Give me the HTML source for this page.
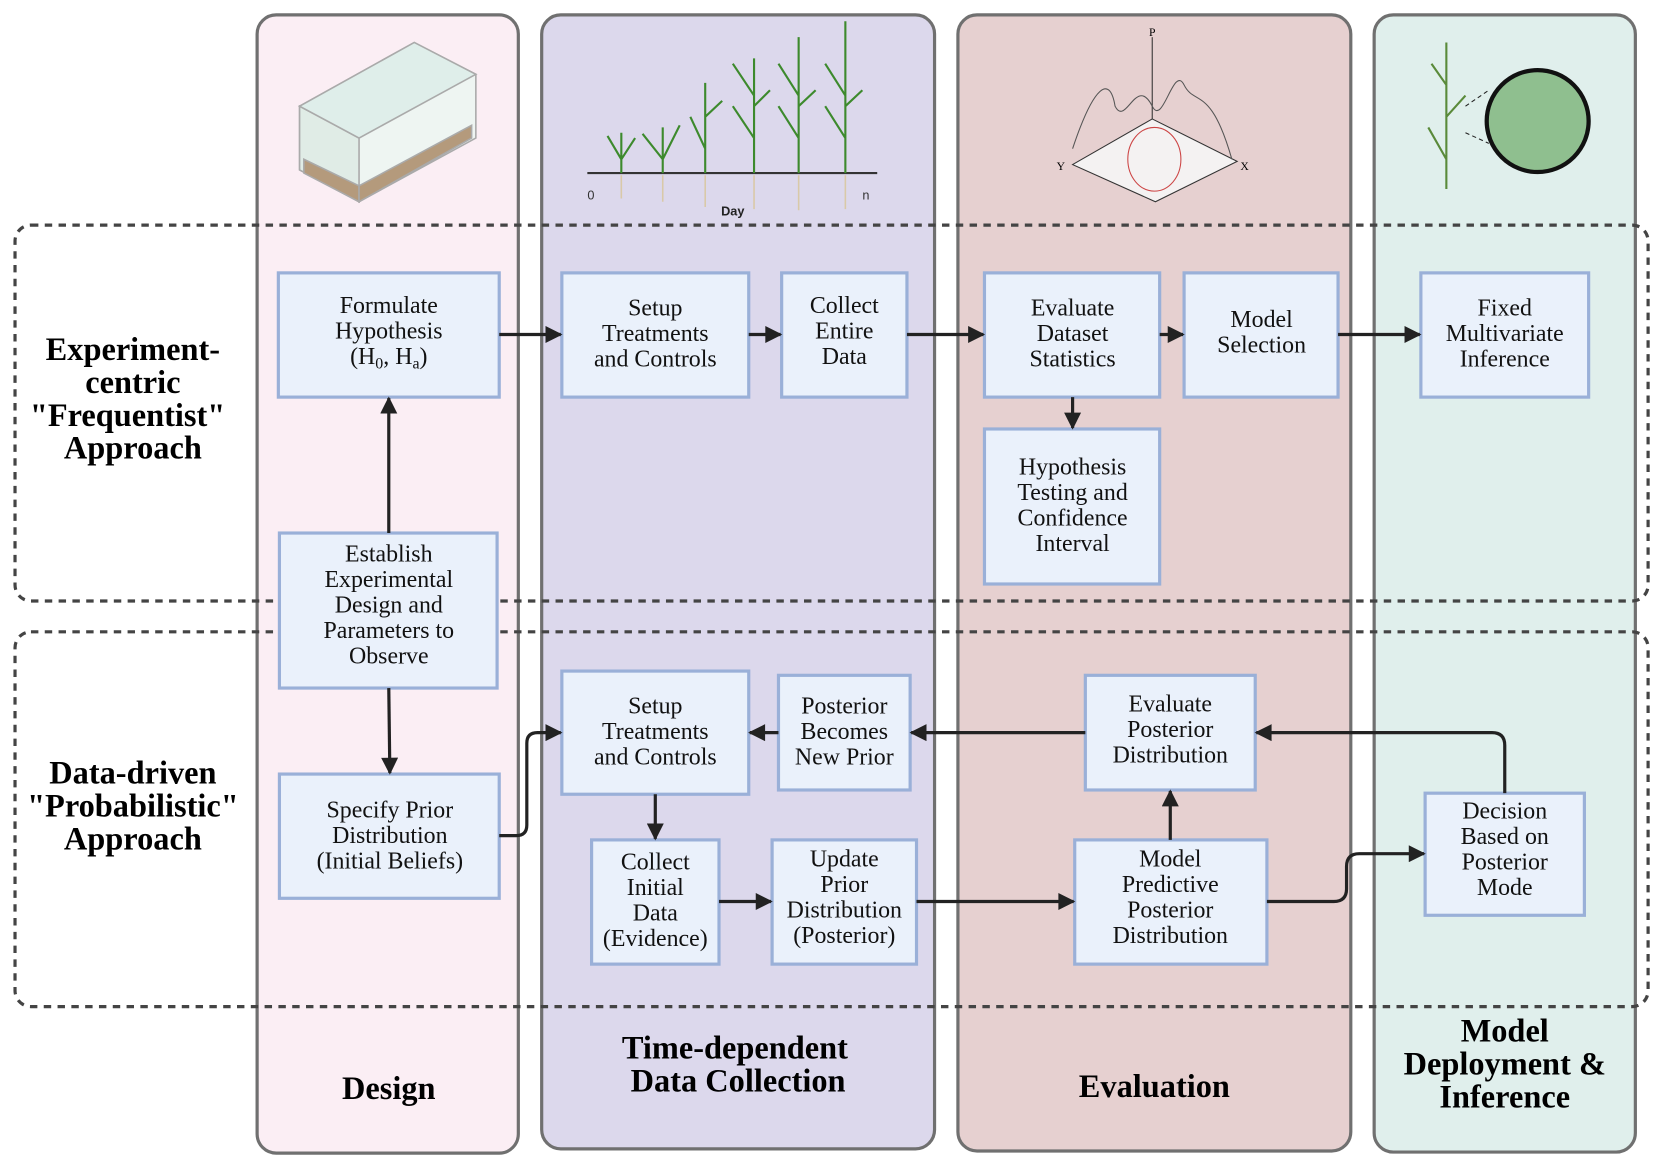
<!DOCTYPE html>
<html><head><meta charset="utf-8"><style>
html,body{margin:0;padding:0;background:#fff;}
svg{display:block;}
.bx{fill:#eaf1fb;stroke:#9ab0d8;stroke-width:3;}
.t{font-family:"Liberation Serif",serif;font-size:22.5px;fill:#111;text-anchor:middle;}
.h{font-family:"Liberation Serif",serif;font-size:30.5px;font-weight:bold;fill:#000;text-anchor:middle;}
.ar{stroke:#222;stroke-width:3;fill:none;}
</style></head><body>
<svg width="1661" height="1168" viewBox="0 0 1564 1100" xmlns="http://www.w3.org/2000/svg">
<defs>
<marker id="m" viewBox="0 0 10 10" refX="9" refY="5" markerWidth="18" markerHeight="16" markerUnits="userSpaceOnUse" orient="auto"><path d="M0,0 L10,5 L0,10 z" fill="#222"/></marker></defs>
<rect x="242" y="14" width="246" height="1072" rx="18" fill="#fbeef4" stroke="#707070" stroke-width="3"/>
<rect x="510" y="14" width="370" height="1068" rx="18" fill="#dcd8ec" stroke="#707070" stroke-width="3"/>
<rect x="902" y="14" width="370" height="1070" rx="18" fill="#e6d0d0" stroke="#707070" stroke-width="3"/>
<rect x="1294" y="14" width="246" height="1071" rx="18" fill="#e0efec" stroke="#707070" stroke-width="3"/>
<rect x="14" y="212" width="1538" height="354" rx="15" fill="none" stroke="#444" stroke-width="3" stroke-dasharray="7,6"/>
<rect x="14" y="595" width="1538" height="353" rx="15" fill="none" stroke="#444" stroke-width="3" stroke-dasharray="7,6"/>
<g stroke="#aaa" stroke-width="1.5" fill="#dfeee8">
<polygon points="282,100 390,40 448,70 448,130 338,190 282,160" fill="#eef5f2"/>
<polygon points="282,100 338,130 338,190 282,160" fill="#e0ece6"/>
<polygon points="282,100 390,40 448,70 338,130" fill="#dfeeea"/>
<polygon points="286,150 338,175 338,190 286,163" fill="#b49a7c"/>
<polygon points="338,175 444,118 444,130 338,190" fill="#b49a7c"/>
</g>
<g stroke="#3d8a2d" stroke-width="2" fill="none">
<line x1="553" y1="163" x2="826" y2="163" stroke="#333"/>
<path d="M585,163 L585,125 M585,150 L572,128 M585,150 L598,130"/>
<path d="M624,163 L624,120 M624,150 L605,126 M624,150 L640,118"/>
<path d="M664,163 L664,78 M664,140 L650,110 M664,110 L680,95"/>
<path d="M710,163 L710,55 M710,130 L690,100 M710,90 L690,60 M710,100 L725,85"/>
<path d="M752,163 L752,35 M752,130 L733,100 M752,90 L733,60 M752,100 L768,85"/>
<path d="M796,163 L796,20 M796,130 L777,100 M796,90 L777,60 M796,100 L812,85"/>
</g>
<g stroke="#d9c9a8" stroke-width="1.5"><path d="M664,165 v30 M710,165 v32 M752,165 v33 M796,165 v32 M624,165 v25 M585,165 v22"/></g>
<text x="553" y="188" font-family="Liberation Sans,sans-serif" font-size="12" fill="#333">0</text>
<text x="812" y="188" font-family="Liberation Sans,sans-serif" font-size="12" fill="#333">n</text>
<text x="690" y="203" font-family="Liberation Sans,sans-serif" font-size="12" font-weight="bold" fill="#222" text-anchor="middle">Day</text>
<g stroke="#333" stroke-width="1" fill="none">
<polygon points="1010,155 1085,112 1165,152 1088,190" fill="#f4f2f2"/>
<line x1="1085" y1="35" x2="1085" y2="112"/>
<path d="M1010,140 C1030,80 1045,70 1050,100 C1060,120 1070,70 1085,100 C1095,120 1105,60 1115,80 C1125,100 1140,80 1160,150" stroke="#555"/>
<ellipse cx="1087" cy="150" rx="25" ry="30" stroke="#c44"/>
</g>
<text x="1085" y="34" font-family="Liberation Serif,serif" font-size="11" text-anchor="middle">P</text>
<text x="995" y="160" font-family="Liberation Serif,serif" font-size="11">Y</text>
<text x="1168" y="160" font-family="Liberation Serif,serif" font-size="11">X</text>
<g stroke="#5a8a3a" stroke-width="2" fill="none"><path d="M1362,178 L1362,40 M1362,150 L1345,120 M1362,110 L1380,90 M1362,80 L1348,60"/></g>
<circle cx="1448" cy="114" r="48" fill="#8fbf8f" stroke="#111" stroke-width="4"/>
<line x1="1380" y1="100" x2="1402" y2="85" stroke="#222" stroke-dasharray="4,3"/>
<line x1="1380" y1="125" x2="1402" y2="135" stroke="#222" stroke-dasharray="4,3"/>
<rect class="bx" x="262" y="257" width="208" height="117"/>
<rect class="bx" x="529" y="257" width="176" height="117"/>
<rect class="bx" x="736" y="257" width="118" height="117"/>
<rect class="bx" x="927" y="257" width="165" height="117"/>
<rect class="bx" x="1115" y="257" width="145" height="117"/>
<rect class="bx" x="1338" y="257" width="158" height="117"/>
<rect class="bx" x="927" y="404" width="165" height="146"/>
<rect class="bx" x="263" y="502" width="205" height="146"/>
<rect class="bx" x="263" y="729" width="207" height="117"/>
<rect class="bx" x="529" y="632" width="176" height="116"/>
<rect class="bx" x="733" y="636" width="124" height="108"/>
<rect class="bx" x="1022" y="636" width="160" height="108"/>
<rect class="bx" x="557" y="791" width="120" height="117"/>
<rect class="bx" x="727" y="791" width="136" height="117"/>
<rect class="bx" x="1012" y="791" width="181" height="117"/>
<rect class="bx" x="1342" y="747" width="150" height="115"/>
<text class="t"><tspan x="366" y="295">Formulate</tspan><tspan x="366" y="319">Hypothesis</tspan><tspan x="366" y="343">(H<tspan font-size="15" dy="4">0</tspan><tspan dy="-4">, H</tspan><tspan font-size="15" dy="4">a</tspan><tspan dy="-4">)</tspan></tspan></text>
<text class="t"><tspan x="617" y="297">Setup</tspan><tspan x="617" y="321">Treatments</tspan><tspan x="617" y="345">and Controls</tspan></text>
<text class="t"><tspan x="795" y="295">Collect</tspan><tspan x="795" y="319">Entire</tspan><tspan x="795" y="343">Data</tspan></text>
<text class="t"><tspan x="1010" y="297">Evaluate</tspan><tspan x="1010" y="321">Dataset</tspan><tspan x="1010" y="345">Statistics</tspan></text>
<text class="t"><tspan x="1188" y="308">Model</tspan><tspan x="1188" y="332">Selection</tspan></text>
<text class="t"><tspan x="1417" y="297">Fixed</tspan><tspan x="1417" y="321">Multivariate</tspan><tspan x="1417" y="345">Inference</tspan></text>
<text class="t"><tspan x="1010" y="447">Hypothesis</tspan><tspan x="1010" y="471">Testing and</tspan><tspan x="1010" y="495">Confidence</tspan><tspan x="1010" y="519">Interval</tspan></text>
<text class="t"><tspan x="366" y="529">Establish</tspan><tspan x="366" y="553">Experimental</tspan><tspan x="366" y="577">Design and</tspan><tspan x="366" y="601">Parameters to</tspan><tspan x="366" y="625">Observe</tspan></text>
<text class="t"><tspan x="367" y="770">Specify Prior</tspan><tspan x="367" y="794">Distribution</tspan><tspan x="367" y="818">(Initial Beliefs)</tspan></text>
<text class="t"><tspan x="617" y="672">Setup</tspan><tspan x="617" y="696">Treatments</tspan><tspan x="617" y="720">and Controls</tspan></text>
<text class="t"><tspan x="795" y="672">Posterior</tspan><tspan x="795" y="696">Becomes</tspan><tspan x="795" y="720">New Prior</tspan></text>
<text class="t"><tspan x="1102" y="670">Evaluate</tspan><tspan x="1102" y="694">Posterior</tspan><tspan x="1102" y="718">Distribution</tspan></text>
<text class="t"><tspan x="617" y="819">Collect</tspan><tspan x="617" y="843">Initial</tspan><tspan x="617" y="867">Data</tspan><tspan x="617" y="891">(Evidence)</tspan></text>
<text class="t"><tspan x="795" y="816">Update</tspan><tspan x="795" y="840">Prior</tspan><tspan x="795" y="864">Distribution</tspan><tspan x="795" y="888">(Posterior)</tspan></text>
<text class="t"><tspan x="1102" y="816">Model</tspan><tspan x="1102" y="840">Predictive</tspan><tspan x="1102" y="864">Posterior</tspan><tspan x="1102" y="888">Distribution</tspan></text>
<text class="t"><tspan x="1417" y="771">Decision</tspan><tspan x="1417" y="795">Based on</tspan><tspan x="1417" y="819">Posterior</tspan><tspan x="1417" y="843">Mode</tspan></text>
<text class="h"><tspan x="125" y="339">Experiment-</tspan><tspan x="125" y="370">centric</tspan><tspan x="120" y="401">"Frequentist"</tspan><tspan x="125" y="432">Approach</tspan></text>
<text class="h"><tspan x="125" y="738">Data-driven</tspan><tspan x="125" y="769">"Probabilistic"</tspan><tspan x="125" y="800">Approach</tspan></text>
<text class="h"><tspan x="366" y="1035">Design</tspan></text>
<text class="h"><tspan x="692" y="997">Time-dependent</tspan><tspan x="695" y="1028">Data Collection</tspan></text>
<text class="h"><tspan x="1087" y="1033">Evaluation</tspan></text>
<text class="h"><tspan x="1417" y="981">Model</tspan><tspan x="1417" y="1012">Deployment &amp;</tspan><tspan x="1417" y="1043">Inference</tspan></text>
<g class="ar" marker-end="url(#m)">
<line x1="470" y1="315" x2="528" y2="315"/>
<line x1="705" y1="315" x2="735" y2="315"/>
<line x1="854" y1="315" x2="926" y2="315"/>
<line x1="1092" y1="315" x2="1114" y2="315"/>
<line x1="1260" y1="315" x2="1337" y2="315"/>
<line x1="1010" y1="374" x2="1010" y2="403"/>
<line x1="366" y1="502" x2="366" y2="375"/>
<line x1="366" y1="648" x2="367" y2="728"/>
<path d="M470,787 L486,787 Q496,787 496,777 L496,700 Q496,690 506,690 L528,690"/>
<line x1="733" y1="690" x2="706" y2="690"/>
<line x1="1022" y1="690" x2="858" y2="690"/>
<line x1="617" y1="748" x2="617" y2="790"/>
<line x1="677" y1="849" x2="726" y2="849"/>
<line x1="863" y1="849" x2="1011" y2="849"/>
<line x1="1102" y1="791" x2="1102" y2="745"/>
<path d="M1417,747 L1417,702 Q1417,690 1405,690 L1183,690"/>
<path d="M1193,849 L1256,849 Q1268,849 1268,837 L1268,816 Q1268,804 1280,804 L1341,804"/>
</g>
</svg>
</body></html>
